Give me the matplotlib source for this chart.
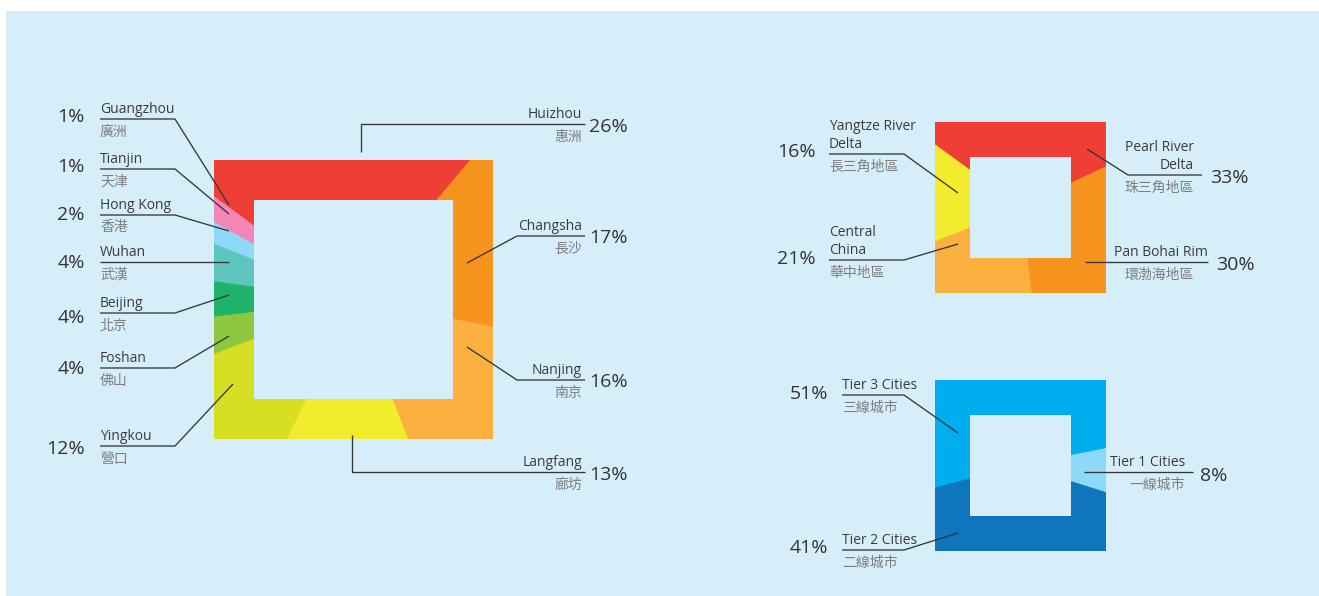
import matplotlib.pyplot as plt
from matplotlib.patches import Rectangle

plt.rcParams['font.family'] = ['Open Sans', 'Noto Sans CJK TC', 'DejaVu Sans']

BG = '#D6EEFA'
PCT_COLOR = '#333333'
EN_COLOR = '#3c3c3c'
ZH_COLOR = '#7d7d7d'
LINE_COLOR = '#363636'

# ---------------------------------------------------------------------------
# Data
# ---------------------------------------------------------------------------
city_en = ['Huizhou', 'Changsha', 'Nanjing', 'Langfang', 'Yingkou', 'Foshan',
           'Beijing', 'Wuhan', 'Hong Kong', 'Tianjin', 'Guangzhou']
city_zh = ['惠洲', '長沙', '南京', '廊坊', '營口', '佛山',
           '北京', '武漢', '香港', '天津', '廣洲']
city_pct = [26, 17, 16, 13, 12, 4, 4, 4, 2, 1, 1]
city_colors = ['#EF3E36', '#F7941D', '#FBB040', '#F2EB2E', '#D7DF23', '#8DC63F',
               '#1EB26A', '#5BC5BE', '#8ED8F8', '#F287B7', '#F287B7']

region_en = ['Pearl River\nDelta', 'Pan Bohai Rim', 'Central\nChina', 'Yangtze River\nDelta']
region_zh = ['珠三角地區', '環渤海地區', '華中地區', '長三角地區']
region_pct = [33, 30, 21, 16]
region_colors = ['#EF3E36', '#F7941D', '#FBB040', '#F2EB2E']

tier_en = ['Tier 3 Cities', 'Tier 1 Cities', 'Tier 2 Cities']
tier_zh = ['三線城市', '一線城市', '二線城市']
tier_pct = [51, 8, 41]
tier_colors = ['#00AEEF', '#8ED8F8', '#0F75BC']

# ---------------------------------------------------------------------------
# Layout (pixel coords, y down)
# side, name x, chinese x, line y, pct y, leader points
# ---------------------------------------------------------------------------
city_layout = [
    ('R', 582, 582, 124, 127, [(585, 124), (361, 124), (361, 152)]),
    ('R', 582, 582, 236, 238, [(585, 236), (517, 236), (467, 263)]),
    ('R', 582, 582, 380, 382, [(585, 380), (517, 380), (467, 347)]),
    ('R', 582, 582, 472, 475, [(585, 472), (352, 472), (352, 435)]),
    ('L', 100, 100, 446, 449, [(100, 446), (175, 446), (233, 384)]),
    ('L', 100, 100, 368, 369, [(100, 368), (175, 368), (229, 336)]),
    ('L', 100, 100, 313, 318, [(100, 313), (175, 313), (229, 295)]),
    ('L', 100, 100, 262, 263, [(100, 262), (229, 262)]),
    ('L', 100, 100, 215, 215, [(100, 215), (175, 215), (229, 231)]),
    ('L', 100, 100, 169, 167, [(100, 169), (175, 169), (229, 214)]),
    ('L', 100, 100, 119, 117, [(100, 119), (175, 119), (229, 205)]),
]
region_layout = [
    ('R', 1194, 1194, 175, 178, [(1202, 175), (1128, 175), (1087, 149)]),
    ('R', 1208, 1194, 262, 265, [(1208, 262), (1085, 262)]),
    ('L', 829, 829, 260, 259, [(829, 260), (904, 260), (958, 244)]),
    ('L', 829, 829, 154, 152, [(829, 154), (904, 154), (958, 193)]),
]
tier_layout = [
    ('L', 842, 842, 395, 394, [(842, 395), (904, 395), (958, 433)]),
    ('R', 1185, 1185, 472, 476, [(1193, 472), (1084, 472)]),
    ('L', 842, 842, 550, 548, [(842, 550), (904, 550), (958, 533)]),
]


def square_donut(ax, values, colors, cx, cy, half, hole_half, start):
    wedges, _ = ax.pie(values, colors=colors, radius=half * 1.6, center=(cx, cy),
                       startangle=start, counterclock=True,
                       wedgeprops=dict(linewidth=0.6))
    clip = Rectangle((cx - half, cy - half), 2 * half, 2 * half,
                     transform=ax.transData)
    for w, c in zip(wedges, colors):
        w.set_edgecolor(c)
        w.set_clip_on(True)
        w.set_clip_path(clip)
    ax.add_patch(Rectangle((cx - hole_half, cy - hole_half), 2 * hole_half,
                           2 * hole_half, facecolor=BG, edgecolor='none', zorder=3))


def add_labels(ax, names, zh, pcts, layout, gap_left, gap_right):
    for name, z, p, (side, nx, zx, ly, py, pts) in zip(names, zh, pcts, layout):
        xs = [q[0] for q in pts]
        ys = [q[1] for q in pts]
        ax.plot(xs, ys, color=LINE_COLOR, lw=0.95, zorder=4, solid_capstyle='butt')
        ha = 'left' if side == 'L' else 'right'
        ax.text(nx, ly - 2, name, ha=ha, va='bottom', fontsize=10,
                color=EN_COLOR, linespacing=1.25, zorder=5)
        ax.text(zx, ly + 13, z, ha=ha, va='center', fontsize=10,
                color=ZH_COLOR, zorder=5)
        if side == 'L':
            ax.text(nx - gap_left, py, f'{p}%', ha='right', va='center',
                    fontsize=14, color=PCT_COLOR, zorder=5)
        else:
            ax.text(max(xs) + gap_right, py, f'{p}%', ha='left', va='center',
                    fontsize=14, color=PCT_COLOR, zorder=5)


fig = plt.figure(figsize=(13.19, 5.96), dpi=100, facecolor='white')
ax = fig.add_axes([0, 0, 1, 1])

ax.add_patch(Rectangle((6, 11), 1319 - 6, 596 - 11, facecolor=BG,
                       edgecolor='none', zorder=0))

square_donut(ax, city_pct, city_colors, 353.5, 299.5, 139.5, 99.5, -143.6)
square_donut(ax, region_pct, region_colors, 1020.5, 207, 85.5, 50.5, -144)
square_donut(ax, tier_pct, tier_colors, 1020.5, 465.5, 85.5, 50.5, -194.8)

add_labels(ax, city_en, city_zh, city_pct, city_layout, 15, 4)
add_labels(ax, region_en, region_zh, region_pct, region_layout, 13, 8)
add_labels(ax, tier_en, tier_zh, tier_pct, tier_layout, 14, 7)

ax.set_xlim(0, 1319)
ax.set_ylim(596, 0)
ax.set_aspect('auto')
ax.axis('off')

fig.savefig('out.png', dpi=100, facecolor='white')
